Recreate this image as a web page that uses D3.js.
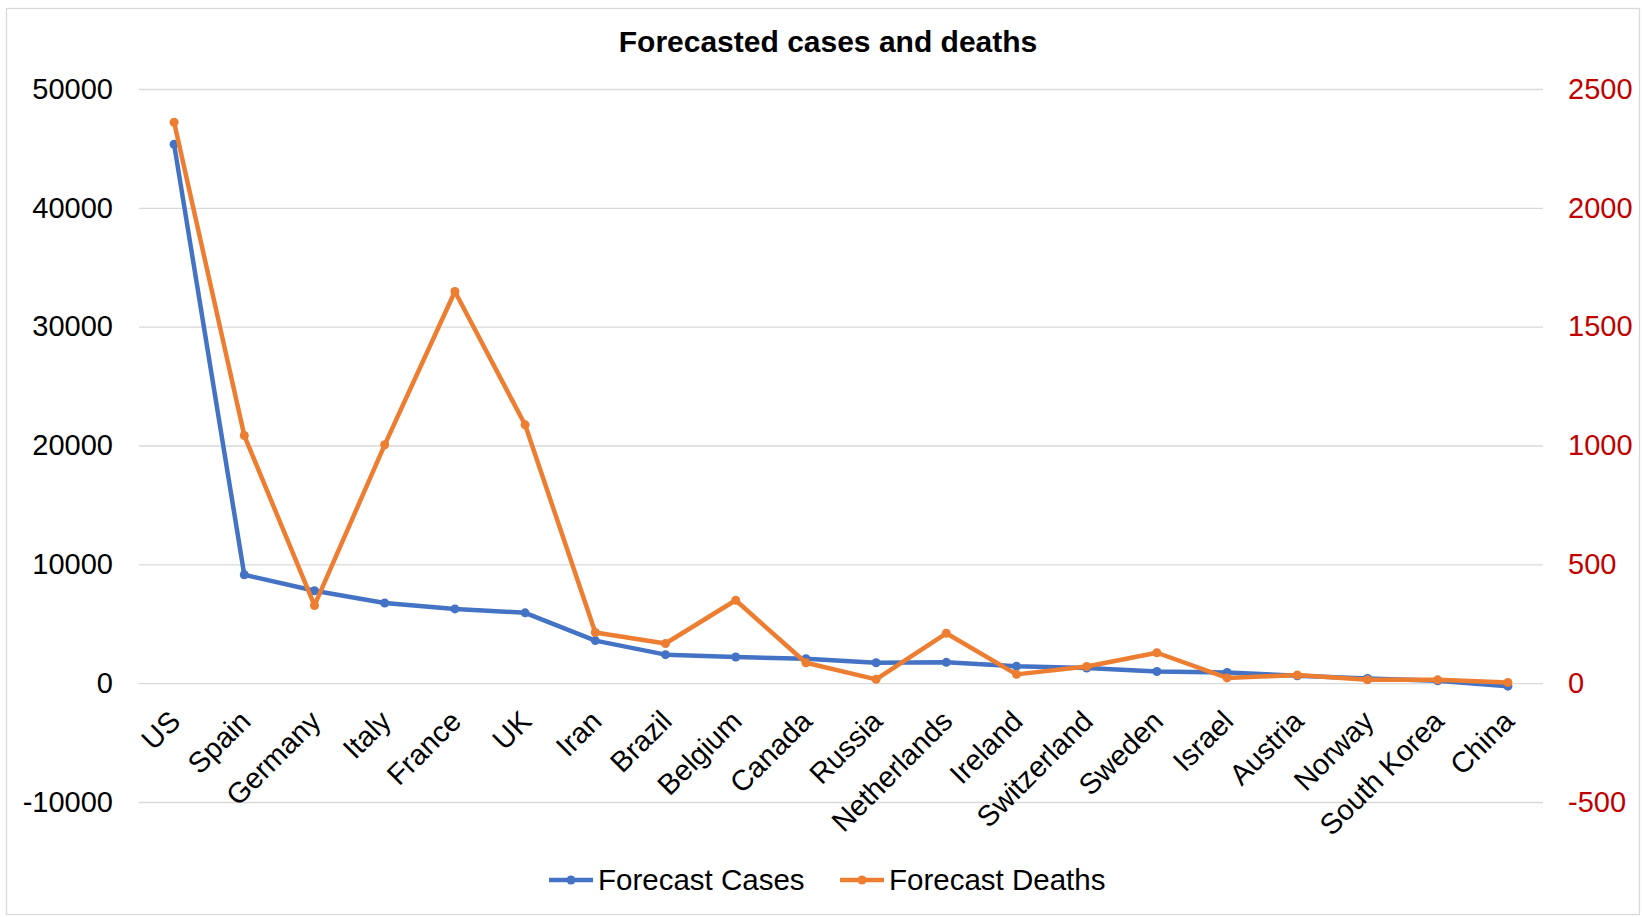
<!DOCTYPE html>
<html>
<head>
<meta charset="utf-8">
<script src="https://cdn.jsdelivr.net/npm/d3@7"></script>
<style>
body { margin:0; background:#fff; }
text { font-family:"Liberation Sans", Arial, sans-serif; }
</style>
</head>
<body>
<script>
///////////////////   Data   /////////////////

var countries = ["US","Spain","Germany","Italy","France","UK","Iran","Brazil","Belgium","Canada",
	"Russia","Netherlands","Ireland","Switzerland","Sweden","Israel","Austria","Norway","South Korea","China"];

var forecastCases = [45350,9120,7780,6750,6250,5920,3580,2400,2200,2050,
	1720,1750,1430,1280,980,900,620,400,200,-250];

var forecastDeaths = [2360,1042,327,1003,1648,1087,213,167,349,86,
	16,210,37,70,128,22,34,14,14,3];

var casesTicks = [-10000,0,10000,20000,30000,40000,50000],
	deathsTicks = [-500,0,500,1000,1500,2000,2500];

var seriesNames = ["Forecast Cases","Forecast Deaths"];


///////////////////   Parameters   /////////////////

var width = 1642, height = 917;

var plotLeft = 139, plotRight = 1543,
	plotTop = 89, plotBottom = 802;

var colors = {
	"blue":"#4472C4",
	"orange":"#ED7D31",
	"darkred":"#C00000",
	"grid":"#D9D9D9"
};

var lineWidth = 4.5,
	markerRadius = 4.5;


////////////////	Scales      //////////////

var x = d3.scalePoint()
	.domain(countries)
	.range([plotLeft, plotRight])
	.padding(0.5);

var yCases = d3.scaleLinear()
	.domain([-10000, 50000])
	.range([plotBottom, plotTop]);

var yDeaths = d3.scaleLinear()
	.domain([-500, 2500])
	.range([plotBottom, plotTop]);

// plain hyphen for negatives, as Excel does
function plain(d){ return String(d); }


////////////////	Main rendering      //////////////

var svg = d3.select("body").append("svg")
	.attr("width", width)
	.attr("height", height);

// chart frame
svg.append("rect")
	.attr("x", 6.5)
	.attr("y", 8.5)
	.attr("width", 1633)
	.attr("height", 906)
	.attr("fill", "#fff")
	.attr("stroke", colors.grid)
	.attr("stroke-width", 1.3);

// title
svg.append("text")
	.attr("x", 828)
	.attr("y", 52)
	.attr("text-anchor", "middle")
	.attr("font-size", 30)
	.attr("font-weight", "bold")
	.attr("fill", "#000")
	.text("Forecasted cases and deaths");

// left axis with gridlines
var leftAxis = svg.append("g")
	.attr("transform", "translate(" + plotLeft + ",0)")
	.call(d3.axisLeft(yCases)
		.tickValues(casesTicks)
		.tickSize(-(plotRight - plotLeft))
		.tickPadding(26)
		.tickFormat(plain));

leftAxis.select(".domain").remove();
leftAxis.selectAll("line")
	.attr("stroke", colors.grid)
	.attr("stroke-width", 1.3);
leftAxis.selectAll("text")
	.attr("font-size", 29)
	.attr("font-family", "Liberation Sans, Arial, sans-serif")
	.attr("fill", "#000");

// right axis
var rightAxis = svg.append("g")
	.attr("transform", "translate(" + plotRight + ",0)")
	.call(d3.axisRight(yDeaths)
		.tickValues(deathsTicks)
		.tickSize(0)
		.tickPadding(25)
		.tickFormat(plain));

rightAxis.select(".domain").remove();
rightAxis.selectAll("text")
	.attr("font-size", 29)
	.attr("font-family", "Liberation Sans, Arial, sans-serif")
	.attr("fill", colors.darkred);

// category labels, rotated like Excel
svg.append("g")
	.selectAll("text")
	.data(countries)
	.enter()
	.append("text")
	.attr("transform", function(d) { return "translate(" + (x(d) + 8) + ",723) rotate(-45)"; })
	.attr("text-anchor", "end")
	.attr("font-size", 29)
	.attr("fill", "#000")
	.text(function(d) { return d; });

// series
var series = [
	{name: seriesNames[0], values: forecastCases, y: yCases, color: colors.blue},
	{name: seriesNames[1], values: forecastDeaths, y: yDeaths, color: colors.orange}
];

series.forEach(function(s){
	var line = d3.line()
		.x(function(d,i) { return x(countries[i]); })
		.y(function(d) { return s.y(d); });

	svg.append("path")
		.datum(s.values)
		.attr("d", line)
		.attr("fill", "none")
		.attr("stroke", s.color)
		.attr("stroke-width", lineWidth)
		.attr("stroke-linejoin", "round");

	svg.append("g")
		.selectAll("circle")
		.data(s.values)
		.enter()
		.append("circle")
		.attr("cx", function(d,i) { return x(countries[i]); })
		.attr("cy", function(d) { return s.y(d); })
		.attr("r", markerRadius)
		.attr("fill", s.color);
});

// legend
var legendX = [549, 840];

var legend = svg.append("g")
	.selectAll("g")
	.data(series)
	.enter()
	.append("g")
	.attr("transform", function(d,i) { return "translate(" + legendX[i] + ",880)"; });

legend.append("line")
	.attr("x1", 0)
	.attr("x2", 44)
	.attr("stroke", function(d) { return d.color; })
	.attr("stroke-width", lineWidth);

legend.append("circle")
	.attr("cx", 22)
	.attr("r", markerRadius)
	.attr("fill", function(d) { return d.color; });

legend.append("text")
	.attr("x", 49)
	.attr("y", 10)
	.attr("font-family", "Lato, 'Open Sans', sans-serif")
	.attr("font-size", 29.5)
	.attr("fill", "#000")
	.text(function(d) { return d.name; });
</script>
</body>
</html>
